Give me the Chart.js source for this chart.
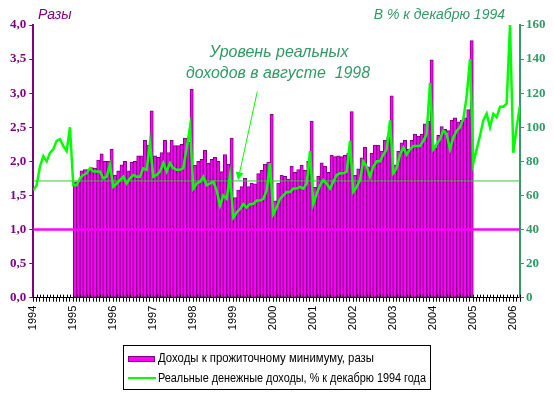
<!DOCTYPE html>
<html>
<head>
<meta charset="utf-8">
<script src="https://cdn.jsdelivr.net/npm/chart.js@4.4.1/dist/chart.umd.min.js"></script>
<style>
body{margin:0;background:#fff;}
#box{width:554px;height:395px;}
</style>
</head>
<body>
<div id="box"><canvas id="incomeChart" width="554" height="395"></canvas></div>
<script>
/* ── DATA ── */
// x axis: months from Jan 1994 (0) to Mar 2006 (146), a year label every 12 months
var yearLabels=['1994','1995','1996','1997','1998','1999','2000','2001','2002','2003','2004','2005','2006'];
var firstBarMonth=12; // Jan 1995
// incomes / subsistence minimum, times (Jan 1995 - Dec 2004)
var ratioToMinimum=[
  1.70,1.70,1.86,1.88,1.88,1.91,1.90,2.02,2.11,2.00,2.00,2.18,
  1.80,1.86,1.95,2.00,1.86,1.99,2.00,2.08,2.08,2.31,2.24,2.74,
  2.08,2.06,2.13,2.31,2.13,2.31,2.23,2.23,2.25,2.34,2.28,3.06,
  1.94,2.00,2.03,2.16,1.97,2.03,2.06,2.00,1.85,2.10,1.96,2.34,
  1.47,1.58,1.63,1.75,1.63,1.68,1.67,1.82,1.87,1.96,1.99,2.69,
  1.42,1.68,1.80,1.78,1.74,1.93,1.84,1.88,1.94,1.87,2.00,2.59,
  1.62,1.78,1.98,1.93,1.84,2.09,2.07,2.08,2.07,2.09,2.12,2.73,
  1.80,1.89,2.05,2.21,1.92,2.12,2.24,2.24,2.15,2.31,2.36,2.96,
  1.95,2.15,2.27,2.31,2.18,2.31,2.40,2.37,2.40,2.55,2.59,3.49,
  2.20,2.38,2.51,2.47,2.45,2.60,2.64,2.58,2.60,2.64,2.76,3.77
];
// real money incomes, % of December 1994 (Jan 1994 - Mar 2006)
var realIncome=[
  63,66,77,83,80,85,87,92,93,89,86,100,
  66,66,70,72,73,76,74,74,74,70,71,78,
  65,67,69,71,67,70,72,71,71,76,75,91,
  71,72,74,79,74,79,76,75,75,76,88,100,
  64,67,68,71,66,67,68,63,54,60,58,72,
  47,50,52,55,53,55,55,57,57,58,63,79,
  49,53,58,60,62,62,64,64,65,64,67,86,
  55,61,66,69,67,64,68,72,73,73,74,92,
  62,65,69,80,77,71,77,80,80,84,87,104,
  73,76,84,88,84,87,89,89,89,92,96,126,
  87,90,93,98,96,87,94,98,100,105,118,140,
  79,87,95,104,108,100,108,106,112,112,114,160,
  85,100,113
];
var minimumLevel=1.0;   // left scale
var aug1998Level=68.5;  // right scale
var noteLines=['Уровень реальных','доходов в августе  1998'];
var legendLabels=['Доходы к прожиточному минимуму, разы','Реальные денежные доходы, % к декабрю 1994 года'];
var leftTitle='Разы', rightTitle='В % к декабрю 1994';

/* ── STYLE ── */
var PURPLE='#800080', TEAL='#339966', MAG='#ff00ff', GREEN='#00ff00';
var SANS='"Liberation Sans", Arial, sans-serif', SERIF='"Liberation Serif", "Times New Roman", serif';
var lastMonth=realIncome.length-1;

var barPts=ratioToMinimum.map(function(v,i){return{x:firstBarMonth+i+0.5,y:v};});
var linePts=realIncome.map(function(v,i){return{x:i,y:v};});

/* ── OVERLAY: titles, note, arrow, legend ── */
var overlay={
  id:'overlay',
  afterDraw:function(chart){
    var c=chart.ctx,xs=chart.scales.x,yr=chart.scales.y1,ca=chart.chartArea;
    c.save();
    // month ticks cross the axis line (upper half)
    c.strokeStyle='#000';c.lineWidth=1;c.beginPath();
    for(var k=0;k<=lastMonth;k++){var px=Math.round(xs.getPixelForValue(k))+0.5;c.moveTo(px,ca.bottom-3);c.lineTo(px,ca.bottom);}
    c.stroke();
    c.textBaseline='middle';
    c.font='italic 14px '+SANS;
    c.fillStyle=PURPLE;c.textAlign='left';c.fillText(leftTitle,38,15);
    c.fillStyle=TEAL;c.textAlign='right';c.fillText(rightTitle,505,15);
    c.font='italic 16px '+SANS;c.textAlign='center';
    c.fillText(noteLines[0],279,53,140);
    c.fillText(noteLines[1],278,74,184);
    // arrow to the August 1998 level line
    var x0=xs.getPixelForValue(67.2),y0=yr.getPixelForValue(121);
    var x1=xs.getPixelForValue(61.4),y1=yr.getPixelForValue(69);
    var a=Math.atan2(y1-y0,x1-x0);
    c.strokeStyle=GREEN;c.fillStyle=GREEN;c.lineWidth=1;
    c.beginPath();c.moveTo(x0,y0);c.lineTo(x1-6*Math.cos(a),y1-6*Math.sin(a));c.stroke();
    c.beginPath();c.moveTo(x1,y1);
    c.lineTo(x1-8*Math.cos(a)+4*Math.sin(a),y1-8*Math.sin(a)-4*Math.cos(a));
    c.lineTo(x1-8*Math.cos(a)-4*Math.sin(a),y1-8*Math.sin(a)+4*Math.cos(a));
    c.closePath();c.fill();
    // legend
    c.strokeStyle='#000';c.lineWidth=1;c.strokeRect(123.5,345.5,307,44);
    c.fillStyle=MAG;c.fillRect(128,356,27,6);
    c.strokeStyle=PURPLE;c.strokeRect(128.5,356.5,26,5);
    c.strokeStyle=GREEN;c.lineWidth=2;
    c.beginPath();c.moveTo(128,378);c.lineTo(156,378);c.stroke();
    c.fillStyle='#000';c.textAlign='left';c.font='12px '+SANS;
    c.fillText(legendLabels[0],158,358.5,216);
    c.fillText(legendLabels[1],158,378.5,268);
    c.restore();
  }
};

/* ── CHART ── */
new Chart(document.getElementById('incomeChart').getContext('2d'),{
  type:'line',
  data:{
    datasets:[
      {type:'line',data:linePts,yAxisID:'y1',borderColor:GREEN,borderWidth:2.5,pointRadius:0,tension:0,order:0},
      {type:'line',data:[{x:0,y:aug1998Level},{x:lastMonth,y:aug1998Level}],yAxisID:'y1',borderColor:'#33cc33',borderWidth:1,pointRadius:0,order:1},
      {type:'line',data:[{x:0,y:minimumLevel},{x:lastMonth,y:minimumLevel}],yAxisID:'y',borderColor:MAG,borderWidth:2.5,pointRadius:0,order:2},
      {type:'bar',data:barPts,yAxisID:'y',backgroundColor:MAG,borderColor:PURPLE,borderWidth:1,borderSkipped:false,barPercentage:1,categoryPercentage:1,order:3}
    ]
  },
  options:{
    responsive:false,animation:false,devicePixelRatio:1,
    layout:{padding:{top:25,left:0,right:0,bottom:0}},
    plugins:{legend:{display:false},tooltip:{enabled:false}},
    scales:{
      x:{type:'linear',min:0,max:lastMonth,offset:false,
        ticks:{stepSize:1,autoSkip:false,maxTicksLimit:300,minRotation:90,maxRotation:90,padding:4,color:'#000',font:{family:SANS,size:11},
          callback:function(v){return v%12===0?yearLabels[v/12]:'';}},
        grid:{drawOnChartArea:false,offset:false,tickLength:4,color:'#000'},
        border:{color:'#000',width:1},
        afterFit:function(s){s.height=97.3;}},
      y:{type:'linear',position:'left',min:0,max:4,
        ticks:{stepSize:0.5,padding:3,color:PURPLE,font:{family:SERIF,size:13,weight:'bold'},
          callback:function(v){return v.toFixed(1).replace('.',',');}},
        grid:{drawOnChartArea:false,tickLength:4,color:PURPLE},
        border:{color:PURPLE,width:2},
        afterFit:function(s){s.width=33.3;}},
      y1:{type:'linear',position:'right',min:0,max:160,
        ticks:{stepSize:20,padding:2,color:TEAL,font:{family:SERIF,size:13,weight:'bold'}},
        grid:{drawOnChartArea:false,tickLength:4,color:TEAL},
        border:{color:TEAL,width:2},
        afterFit:function(s){s.width=34;}}
    }
  },
  plugins:[overlay]
});
</script>
</body>
</html>
